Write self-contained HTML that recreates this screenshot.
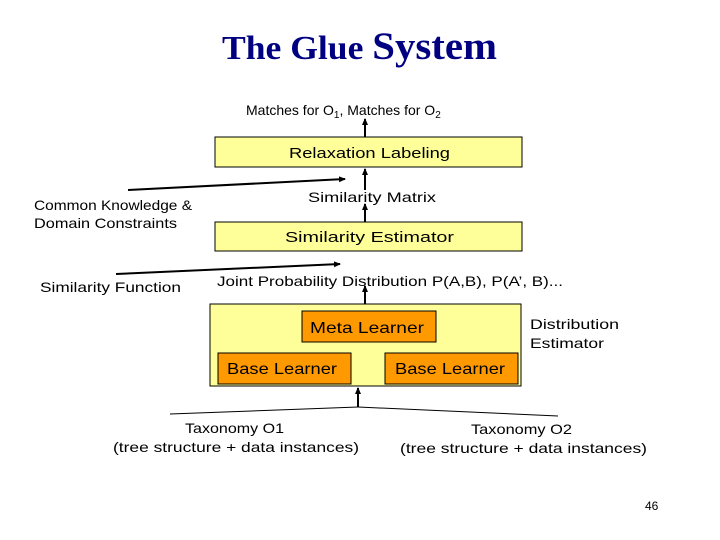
<!DOCTYPE html>
<html><head><meta charset="utf-8"><style>
body{margin:0;width:720px;height:540px;background:#fff;position:relative;overflow:hidden;font-family:"Liberation Sans",sans-serif;}
svg{position:absolute;left:0;top:0}
</style></head><body>
<svg width="720" height="540" viewBox="0 0 720 540">
<defs><marker id="a" markerWidth="8" markerHeight="8" refX="6" refY="4" orient="auto" markerUnits="userSpaceOnUse"><path d="M0,1 L7,4 L0,7 Z" fill="#000"/></marker></defs>
<text x="222" y="59" textLength="275" lengthAdjust="spacingAndGlyphs" font-family="Liberation Serif" font-weight="bold" fill="#000080" font-size="34">The Glue <tspan font-size="39">System</tspan></text>
<g font-size="14" fill="#000">
<text x="246" y="115">Matches for O<tspan font-size="10" dy="3">1</tspan><tspan dy="-3">, Matches for O</tspan><tspan font-size="10" dy="3">2</tspan></text>
</g>
<rect x="215" y="137" width="307" height="30" fill="#ffff99" stroke="#000"/>
<text x="289" y="158" textLength="161" lengthAdjust="spacingAndGlyphs" font-size="15">Relaxation Labeling</text>
<rect x="215" y="222" width="307" height="29" fill="#ffff99" stroke="#000"/>
<text x="285" y="242" textLength="169" lengthAdjust="spacingAndGlyphs" font-size="15">Similarity Estimator</text>
<rect x="210" y="304" width="311" height="82" fill="#ffff99" stroke="#000"/>
<rect x="302" y="311" width="134" height="31" fill="#ff9900" stroke="#000"/>
<text x="310" y="333" textLength="114" lengthAdjust="spacingAndGlyphs" font-size="16">Meta Learner</text>
<rect x="218" y="353" width="133" height="31" fill="#ff9900" stroke="#000"/>
<text x="227" y="374" textLength="110" lengthAdjust="spacingAndGlyphs" font-size="16">Base Learner</text>
<rect x="385" y="353" width="133" height="31" fill="#ff9900" stroke="#000"/>
<text x="395" y="374" textLength="110" lengthAdjust="spacingAndGlyphs" font-size="16">Base Learner</text>
<g stroke="#000" stroke-width="2" fill="none">
<line x1="365" y1="137" x2="365" y2="119" marker-end="url(#a)"/>
<line x1="365" y1="190" x2="365" y2="169" marker-end="url(#a)"/>
<line x1="365" y1="222" x2="365" y2="204" marker-end="url(#a)"/>
<line x1="365" y1="304" x2="365" y2="286" marker-end="url(#a)"/>
<line x1="128" y1="190" x2="345" y2="179" marker-end="url(#a)"/>
<line x1="116" y1="274" x2="340" y2="264" marker-end="url(#a)"/>
<line x1="358" y1="407" x2="358" y2="388" marker-end="url(#a)"/>
</g>
<g stroke="#000" stroke-width="1"><line x1="170" y1="414" x2="358" y2="407"/><line x1="358" y1="407" x2="558" y2="416"/></g>
<g font-size="14" fill="#000" lengthAdjust="spacingAndGlyphs">
<text x="308" y="202" textLength="128" lengthAdjust="spacingAndGlyphs">Similarity Matrix</text>
<text x="34" y="210" textLength="158" lengthAdjust="spacingAndGlyphs">Common Knowledge &amp;</text>
<text x="34" y="228" textLength="143" lengthAdjust="spacingAndGlyphs">Domain Constraints</text>
<text x="40" y="292" textLength="141" lengthAdjust="spacingAndGlyphs">Similarity Function</text>
<text x="217" y="286" textLength="346" lengthAdjust="spacingAndGlyphs">Joint Probability Distribution P(A,B), P(A’, B)...</text>
<text x="530" y="329" textLength="89" lengthAdjust="spacingAndGlyphs">Distribution</text>
<text x="530" y="348" textLength="74" lengthAdjust="spacingAndGlyphs">Estimator</text>
<text x="185" y="433" textLength="99" lengthAdjust="spacingAndGlyphs">Taxonomy O1</text>
<text x="113" y="452" textLength="246" lengthAdjust="spacingAndGlyphs">(tree structure + data instances)</text>
<text x="471" y="434" textLength="101" lengthAdjust="spacingAndGlyphs">Taxonomy O2</text>
<text x="400" y="453" textLength="247" lengthAdjust="spacingAndGlyphs">(tree structure + data instances)</text>
<text x="645" y="510" font-size="12">46</text>
</g>
</svg>
</body></html>
